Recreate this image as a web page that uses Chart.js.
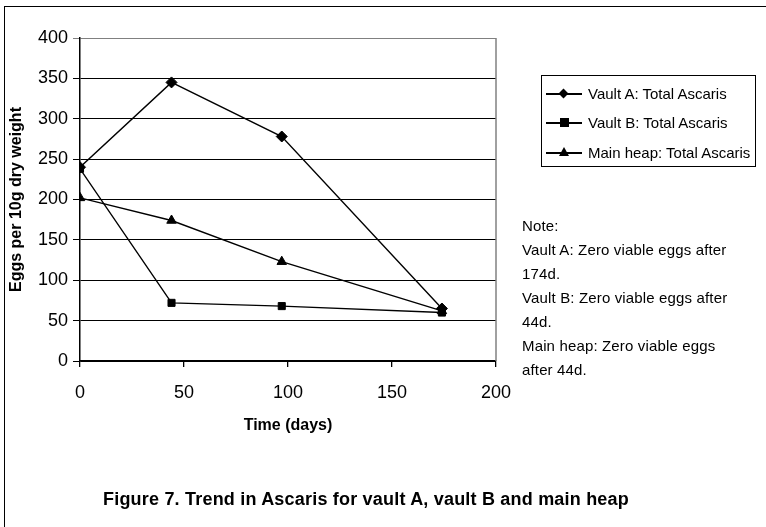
<!DOCTYPE html>
<html>
<head>
<meta charset="utf-8">
<script src="https://cdn.jsdelivr.net/npm/chart.js@4/dist/chart.umd.min.js"></script>
<style>
  body { margin: 0; background: #fff; }
  #wrap { position: relative; width: 766px; height: 527px; overflow: hidden;
          font-family: "Liberation Sans", Arial, sans-serif; color: #000; }
  #frame { position: absolute; left: 4px; top: 6px; width: 800px; height: 600px;
           border-left: 1px solid #000; border-top: 1px solid #000; }
  #chart { position: absolute; left: 0; top: 0; }
  #legend { position: absolute; left: 541px; top: 75px; width: 215px; height: 92px;
            border: 1px solid #000; box-sizing: border-box; }
  .item { position: absolute; left: 4px; height: 20px; font-size: 15px; line-height: 20px;
          letter-spacing: 0px; white-space: nowrap; }
  .item .line { position: absolute; left: 0; top: 9px; width: 36px; height: 1.5px; background: #000; }
  .item .mk { position: absolute; }
  .item span.txt { position: absolute; left: 42px; top: 0; }
  .diamond { left: 14px; top: 6px; width: 7px; height: 7px; background: #000; transform: rotate(45deg); }
  .square { left: 14px; top: 5px; width: 9px; height: 9px; background: #000; }
  .triangle { left: 13px; top: 4px; width: 0; height: 0; border-left: 5px solid transparent;
              border-right: 5px solid transparent; border-bottom: 9px solid #000; }
  #note { position: absolute; left: 522px; top: 214px; font-size: 15px; line-height: 24px;
          letter-spacing: 0.15px; }
  #caption { position: absolute; left: 0; width: 732px; top: 488px; text-align: center;
             font-size: 18px; font-weight: bold; line-height: 22px; letter-spacing: 0.2px; }
</style>
</head>
<body>
<div id="wrap">
  <div id="frame"></div>
  <canvas id="chart" width="766" height="527"></canvas>
  <div id="legend"></div>
  <div id="note">Note:<br>Vault A: Zero viable eggs after<br>174d.<br>Vault B: Zero viable eggs after<br>44d.<br>Main heap: Zero viable eggs<br>after 44d.</div>
  <div id="caption">Figure 7. Trend in Ascaris for vault A, vault B and main heap</div>
</div>
<script>
const days = [0, 44, 97, 174];
const vaultA = [240, 345, 278, 65];
const vaultB = [238, 72, 68, 60];
const mainHeap = [202, 174, 123, 62];
const seriesLabels = ['Vault A: Total Ascaris', 'Vault B: Total Ascaris', 'Main heap: Total Ascaris'];
const markers = ['rectRot', 'rect', 'triangle'];
const xTicks = [0, 50, 100, 150, 200];
const yTicks = [0, 50, 100, 150, 200, 250, 300, 350, 400];

const FONT = '"Liberation Sans", Arial, sans-serif';

function toPoints(vals) {
  return vals.map((v, i) => ({ x: days[i], y: v }));
}

const datasets = [vaultA, vaultB, mainHeap].map((vals, i) => ({
  label: seriesLabels[i],
  data: toPoints(vals),
  borderColor: '#000',
  backgroundColor: '#000',
  borderWidth: 1.4,
  pointStyle: markers[i],
  pointRadius: i === 1 ? 5 : 5.5,
  pointBorderWidth: 1,
  tension: 0,
  fill: false
}));

// gray right edge of the plot area
const plotEdge = {
  id: 'plotEdge',
  beforeDatasetsDraw(chart) {
    const { ctx, chartArea: a } = chart;
    ctx.save();
    ctx.strokeStyle = '#808080';
    ctx.lineWidth = 1.5;
    ctx.beginPath();
    ctx.moveTo(a.right, a.top);
    ctx.lineTo(a.right, a.bottom);
    ctx.stroke();
    ctx.restore();
  }
};

new Chart(document.getElementById('chart'), {
  type: 'line',
  data: { datasets },
  plugins: [plotEdge],
  options: {
    responsive: false,
    animation: false,
    devicePixelRatio: 1,
    layout: { padding: { top: 38, right: 270, left: 0, bottom: 0 } },
    plugins: {
      legend: { display: false },
      tooltip: { enabled: false }
    },
    scales: {
      x: {
        type: 'linear',
        min: 0,
        max: 200,
        afterBuildTicks: s => { s.ticks = xTicks.map(v => ({ value: v })); },
        afterFit: s => { s.height = 166; },
        ticks: { color: '#000', font: { family: FONT, size: 18 }, padding: 15, maxRotation: 0 },
        grid: { drawOnChartArea: false, drawTicks: true, tickLength: 6, color: '#000', lineWidth: 1.3 },
        border: { display: true, color: '#000', width: 1.5 },
        title: {
          display: true, text: 'Time (days)', color: '#000',
          font: { family: FONT, size: 16, weight: 'bold' },
          padding: { top: 0, bottom: 92 }
        }
      },
      y: {
        min: 0,
        max: 400,
        afterBuildTicks: s => { s.ticks = yTicks.map(v => ({ value: v })); },
        afterFit: s => { s.width = 80; },
        ticks: { color: '#000', font: { family: FONT, size: 18 }, padding: 5 },
        grid: {
          color: c => (c.tick && c.tick.value === 400 ? '#808080' : '#000'),
          lineWidth: 1, tickLength: 7
        },
        border: { display: true, color: '#000', width: 1.5 },
        title: {
          display: true, text: 'Eggs per 10g dry weight', color: '#000',
          font: { family: FONT, size: 16, weight: 'bold' },
          padding: { top: 7, bottom: 0 }
        }
      }
    }
  }
});

// legend box built from the dataset labels
const legendEl = document.getElementById('legend');
const mkClass = { rectRot: 'diamond', rect: 'square', triangle: 'triangle' };
const rowTops = [8, 37, 67];
datasets.forEach((d, i) => {
  const item = document.createElement('div');
  item.className = 'item';
  item.style.top = rowTops[i] + 'px';
  item.innerHTML = '<div class="line"></div><div class="mk ' + mkClass[d.pointStyle] +
    '"></div><span class="txt">' + d.label + '</span>';
  legendEl.appendChild(item);
});
</script>
</body>
</html>
